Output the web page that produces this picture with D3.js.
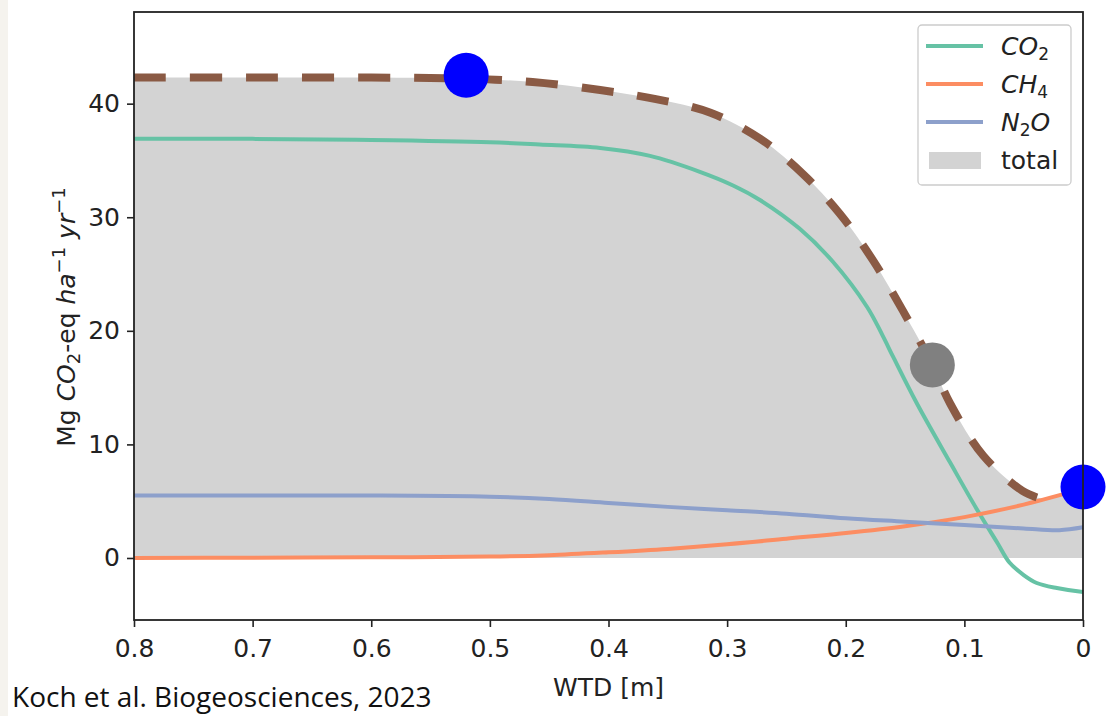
<!DOCTYPE html>
<html>
<head>
<meta charset="utf-8">
<script src="https://cdn.jsdelivr.net/npm/d3@7"></script>
<style>
  html, body { margin: 0; padding: 0; background: #ffffff; }
  svg { display: block; }
</style>
</head>
<body>
<svg id="chart" width="1114" height="716"></svg>
<script>
// ---- data (WTD in m, values in Mg CO2-eq ha-1 yr-1) ----
const co2Wtd  = [0.8, 0.7, 0.6, 0.5, 0.458, 0.407, 0.365, 0.323, 0.295, 0.272, 0.239, 0.211, 0.182, 0.169, 0.16, 0.14, 0.112, 0.089, 0.072, 0.062, 0.05, 0.039, 0.022, 0.0];
const co2Vals = [36.9, 36.9, 36.8, 36.6, 36.4, 36.1, 35.4, 34.0, 32.8, 31.5, 29.0, 26.1, 22.1, 19.6, 17.7, 13.6, 8.4, 4.2, 1.3, -0.4, -1.5, -2.2, -2.65, -3.0];

const ch4Wtd  = [0.8, 0.7, 0.6, 0.5, 0.45, 0.4, 0.35, 0.3, 0.25, 0.2, 0.15, 0.1, 0.05, 0.0];
const ch4Vals = [0.0, 0.02, 0.06, 0.12, 0.25, 0.5, 0.8, 1.2, 1.7, 2.2, 2.8, 3.6, 4.7, 6.1];

const n2oWtd  = [0.8, 0.7, 0.6, 0.5, 0.45, 0.4, 0.35, 0.3, 0.25, 0.2, 0.15, 0.1, 0.05, 0.02, 0.0];
const n2oVals = [5.5, 5.5, 5.5, 5.4, 5.2, 4.85, 4.5, 4.2, 3.9, 3.5, 3.2, 2.9, 2.6, 2.45, 2.7];

const totalWtd  = [0.8, 0.7, 0.6, 0.52, 0.464, 0.407, 0.36, 0.314, 0.272, 0.236, 0.205, 0.177, 0.152, 0.127, 0.112, 0.084, 0.051, 0.038, 0.02, 0.0];
const totalVals = [42.3, 42.3, 42.3, 42.2, 41.9, 41.2, 40.4, 39.2, 36.9, 33.8, 30.3, 26.2, 21.8, 17.0, 13.6, 9.0, 5.9, 5.3, 5.4, 6.0];
const dashedEndWtd = 0.038;

const markerWtd    = [0.52, 0.127, 0.0];
const markerVals   = [42.5, 17.0, 6.25];
const markerColors = ["#0000ff", "#808080", "#0000ff"];

const xTicks = [0.8, 0.7, 0.6, 0.5, 0.4, 0.3, 0.2, 0.1, 0.0];
const xTickLabels = ["0.8", "0.7", "0.6", "0.5", "0.4", "0.3", "0.2", "0.1", "0"];
const yTicks = [0, 10, 20, 30, 40];

const seriesNames  = ["CO2", "CH4", "N2O"];
const seriesColors = ["#66c2a5", "#fc8d62", "#8da0cb"];

// ---- layout ----
const svg = d3.select("#chart");
const L = 134, R = 1083, T = 12, B = 620;
const FS = 25;

// faint strip at the far left edge
svg.append("rect").attr("x", 0).attr("y", 0).attr("width", 8).attr("height", 716).attr("fill", "#f5f3ee");

const x = d3.scaleLinear().domain([0.8, 0]).range([L, R]);
const y = d3.scaleLinear().domain([-5.46, 48.07]).range([B, T]);

const zip = (a, b) => a.map((d, i) => ({ w: d, v: b[i] }));
const curve = d3.curveCatmullRom.alpha(0.5);

const g = svg.append("g");

// total area
const area = d3.area().x(d => x(d.w)).y0(y(0)).y1(d => y(d.v)).curve(curve);
g.append("path").datum(zip(totalWtd, totalVals)).attr("d", area).attr("fill", "#d3d3d3");

// component lines
const line = d3.line().x(d => x(d.w)).y(d => y(d.v)).curve(curve);
const series = [zip(co2Wtd, co2Vals), zip(ch4Wtd, ch4Vals), zip(n2oWtd, n2oVals)];
series.forEach((s, i) => {
  g.append("path").datum(s).attr("d", line)
    .attr("fill", "none").attr("stroke", seriesColors[i]).attr("stroke-width", 4)
    .attr("stroke-linejoin", "round");
});

// dashed total line
g.append("path").datum(zip(totalWtd, totalVals).filter(d => d.w >= dashedEndWtd))
  .attr("d", line).attr("fill", "none").attr("stroke", "#8a5a44")
  .attr("stroke-width", 8).attr("stroke-dasharray", "32,24");

// markers
g.selectAll("circle.m").data(zip(markerWtd, markerVals)).enter().append("circle")
  .attr("cx", d => x(d.w)).attr("cy", d => y(d.v)).attr("r", 22.5)
  .attr("fill", (d, i) => markerColors[i]);

// axes
const tickFont = "DejaVu Sans, sans-serif";
const xAxis = svg.append("g").attr("transform", `translate(0,${B})`)
  .call(d3.axisBottom(x).tickValues(xTicks).tickFormat((d, i) => xTickLabels[i]).tickSize(7).tickPadding(12));
const yAxis = svg.append("g").attr("transform", `translate(${L},0)`)
  .call(d3.axisLeft(y).tickValues(yTicks).tickSize(7).tickPadding(7));
[xAxis, yAxis].forEach(a => {
  a.select(".domain").remove();
  a.selectAll("line").attr("stroke", "#222").attr("stroke-width", 1.6);
  a.selectAll("text").attr("font-family", tickFont).attr("font-size", FS).attr("fill", "#222");
});

// frame
svg.append("rect").attr("x", L).attr("y", T).attr("width", R - L).attr("height", B - T)
  .attr("fill", "none").attr("stroke", "#222").attr("stroke-width", 1.8);

// axis labels
svg.append("text").attr("x", (L + R) / 2).attr("y", 696).attr("text-anchor", "middle")
  .attr("font-family", tickFont).attr("font-size", FS).attr("fill", "#222").text("WTD [m]");

const yl = svg.append("text").attr("transform", `translate(75,${(T + B) / 2 + 1}) rotate(-90)`)
  .attr("text-anchor", "middle").attr("font-family", tickFont).attr("font-size", FS).attr("fill", "#222");
yl.append("tspan").text("Mg ");
yl.append("tspan").attr("font-style", "italic").text("CO");
yl.append("tspan").attr("font-size", 18).attr("dy", 5).text("2");
yl.append("tspan").attr("dy", -5).text("-eq ");
yl.append("tspan").attr("font-style", "italic").text("ha");
yl.append("tspan").attr("font-size", 18).attr("dy", -10).text("\u22121");
yl.append("tspan").attr("dy", 10).text(" ");
yl.append("tspan").attr("font-style", "italic").text("yr");
yl.append("tspan").attr("font-size", 18).attr("dy", -10).text("\u22121");

// legend
const lg = svg.append("g");
lg.append("rect").attr("x", 918).attr("y", 25).attr("width", 153).attr("height", 160)
  .attr("rx", 4).attr("fill", "#ffffff").attr("fill-opacity", 0.85).attr("stroke", "#cccccc").attr("stroke-width", 1.3);
const legY = [46, 84, 122];
seriesNames.forEach((n, i) => {
  lg.append("line").attr("x1", 926).attr("x2", 983).attr("y1", legY[i]).attr("y2", legY[i])
    .attr("stroke", seriesColors[i]).attr("stroke-width", 4);
  const t = lg.append("text").attr("x", 1001).attr("y", legY[i] + 9)
    .attr("font-family", tickFont).attr("font-size", FS).attr("fill", "#222");
  if (i < 2) {
    t.append("tspan").attr("font-style", "italic").text(n.slice(0, 2));
    t.append("tspan").attr("font-size", 17).attr("dy", 5).text(n.slice(2));
  } else {
    t.append("tspan").attr("font-style", "italic").text("N");
    t.append("tspan").attr("font-size", 17).attr("dy", 5).text("2");
    t.append("tspan").attr("font-style", "italic").attr("dy", -5).text("O");
  }
});
lg.append("rect").attr("x", 929).attr("y", 152).attr("width", 52).attr("height", 17).attr("fill", "#d3d3d3");
lg.append("text").attr("x", 1001).attr("y", 169).attr("font-family", tickFont).attr("font-size", FS)
  .attr("fill", "#222").text("total");

// caption
svg.append("text").attr("x", 12).attr("y", 707).attr("font-family", "Open Sans, Noto Sans, sans-serif")
  .attr("font-size", 28).attr("fill", "#111").text("Koch et al. Biogeosciences, 2023");
</script>
</body>
</html>
